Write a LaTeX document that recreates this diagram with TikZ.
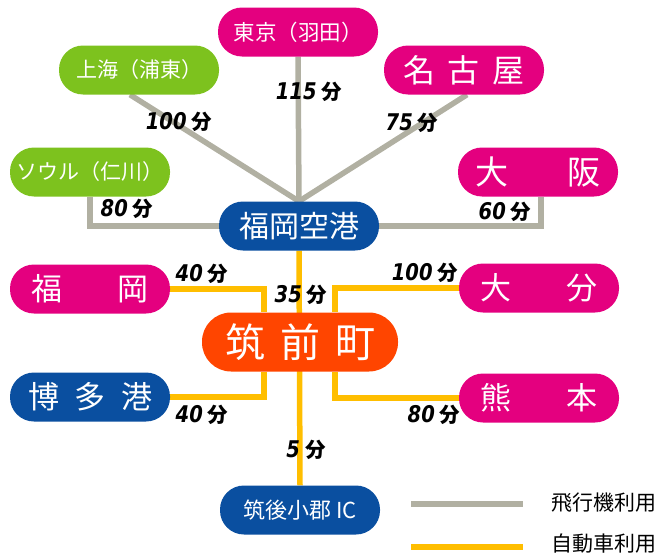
\documentclass[tikz,border=0pt]{standalone}
\usepackage{fontspec}
\setmainfont{Noto Sans CJK JP}
\newfontfamily\jp{Noto Sans CJK JP}
\newfontfamily\numf[FakeStretch=0.85]{DejaVu Sans}
\usetikzlibrary{backgrounds,calc}
\definecolor{mag}{HTML}{E4007F}
\definecolor{grn}{HTML}{7DC21E}
\definecolor{blu}{HTML}{0A4FA0}
\definecolor{org}{HTML}{FF4500}
\definecolor{gline}{HTML}{B1B0A2}
\definecolor{yline}{HTML}{FFBE00}
\newcommand\minlab[1]{{\fontsize{23}{23}\selectfont\numf\bfseries\itshape #1}\hspace{5pt}{\fontsize{20.5}{20.5}\selectfont\jp\bfseries 分}}
\tikzset{
  pill/.style={rounded corners=24pt, minimum width=160pt, minimum height=49pt, inner sep=0pt, text=white},
  bigpill/.style={rounded corners=29pt, minimum width=196pt, minimum height=59pt, inner sep=0pt, text=white},
  lab/.style={inner sep=0pt, text=black},
  legtext/.style={inner sep=0pt, anchor=west, text=black, font=\jp\fontsize{21}{21}\selectfont},
  air/.style={draw=gline, line width=5.5pt},
  car/.style={draw=yline, line width=5.5pt},
}
\begin{document}
\begin{tikzpicture}[x=1pt,y=-1pt]
\useasboundingbox (0,0) rectangle (659,554);
% nodes
\node[pill, fill=mag, font=\jp\fontsize{21.5}{21.5}\selectfont] (tokyo) at (298,32) {東京（羽田）};
\node[pill, fill=grn, font=\jp\fontsize{21}{21}\selectfont] (shanghai) at (139,70) {上海（浦東）};
\node[pill, fill=mag, font=\jp\fontsize{32}{32}\selectfont] (nagoya) at (464,70) {名\hspace{13pt}古\hspace{13pt}屋};
\node[pill, fill=grn, font=\jp\fontsize{21}{21}\selectfont] (seoul) at (90,172) {ソウル（仁川）};
\node[pill, fill=mag, font=\jp\fontsize{33}{33}\selectfont] (osaka) at (538,172) {大\hspace{60pt}阪};
\node[pill, fill=blu, font=\jp\fontsize{30}{30}\selectfont] (airport) at (299,226) {福岡空港};
\node[pill, fill=mag, font=\jp\fontsize{31}{31}\selectfont] (fukuoka) at (90,289) {福\hspace{55pt}岡};
\node[pill, fill=mag, font=\jp\fontsize{31}{31}\selectfont] (oita) at (539,288) {大\hspace{56pt}分};
\node[bigpill, fill=org, font=\jp\fontsize{40}{40}\selectfont] (chikuzen) at (300,342) {筑\hspace{15pt}前\hspace{15pt}町};
\node[pill, fill=blu, font=\jp\fontsize{31}{31}\selectfont] (hakata) at (90,397) {博\hspace{15.5pt}多\hspace{15.5pt}港};
\node[pill, fill=mag, font=\jp\fontsize{31}{31}\selectfont] (kumamoto) at (539,398) {熊\hspace{56pt}本};
\node[pill, fill=blu, font=\jp\fontsize{22}{22}\selectfont] (ic) at (300,510) {筑後小郡 IC};
% connectors
\begin{pgfonlayer}{background}
\draw[air] (tokyo.south) -- (airport.north);
\draw[air] ([xshift=-9pt]shanghai.south) -- (airport.north);
\draw[air] ([xshift=3pt]nagoya.south) -- (airport.north);
\draw[air] (seoul.south) |- (airport.west);
\draw[air] ([xshift=3pt]osaka.south) |- (airport.east);
\draw[car] (airport.south) -- (ic.north);
\draw[car] (fukuoka.east) -| ($(chikuzen.north)+(-36,0)$);
\draw[car] (hakata.east) -| ($(chikuzen.south)+(-36,0)$);
\draw[car] (oita.west) -| ($(chikuzen.north)+(35,0)$);
\draw[car] (kumamoto.west) -| ($(chikuzen.south)+(35,0)$);
\end{pgfonlayer}
% labels
\node[lab] (l115) at (309,92) {\minlab{115}};
\node[lab] (l100a) at (179,122) {\minlab{100}};
\node[lab] (l75) at (412,123) {\minlab{75}};
\node[lab] (l80a) at (127,209) {\minlab{80}};
\node[lab] (l60) at (505,212) {\minlab{60}};
\node[lab] (l40a) at (202,274) {\minlab{40}};
\node[lab] (l35) at (301,295) {\minlab{35}};
\node[lab] (l100b) at (425,273) {\minlab{100}};
\node[lab] (l40b) at (202,415) {\minlab{40}};
\node[lab] (l80b) at (434,415) {\minlab{80}};
\node[lab] (l5) at (306,450) {\minlab{5}};
% legend
\coordinate (g1) at (411,504);
\coordinate (g2) at (523,504);
\coordinate (y1) at (411,547);
\coordinate (y2) at (523,547);
\draw[air] (g1) -- (g2);
\draw[car] (y1) -- (y2);
\node[legtext] (legair) at (551,503) {飛行機利用};
\node[legtext] (legcar) at (551,544) {自動車利用};
\end{tikzpicture}
\end{document}
